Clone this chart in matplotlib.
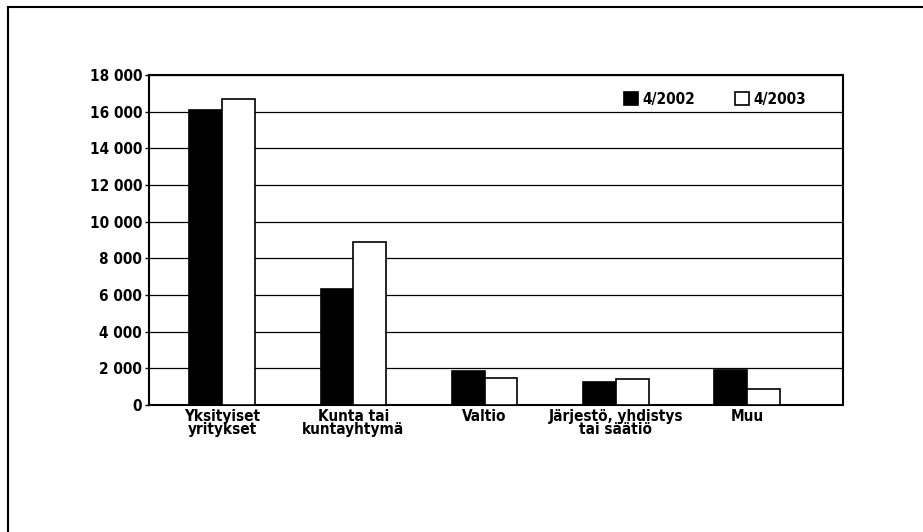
import matplotlib
matplotlib.use("Agg")
import matplotlib.pyplot as plt
import numpy as np
from matplotlib.lines import Line2D

plt.rcParams["font.family"] = ["Liberation Sans Narrow", "DejaVu Sans"]
plt.rcParams["font.weight"] = "bold"
plt.rcParams["font.stretch"] = "condensed"

categories = ["Yksityiset\nyritykset", "Kunta tai\nkuntayhtymä", "Valtio",
              "Järjestö, yhdistys\ntai säätiö", "Muu"]
y2002 = [16100, 6330, 1850, 1250, 1900]
y2003 = [16700, 8900, 1470, 1420, 870]
labels = ["4/2002", "4/2003"]

fig = plt.figure(figsize=(9.23, 5.32), dpi=100)
# outer frame: only top and left edges are inside the picture
fig.lines.append(Line2D([8 / 923, 1], [1 - 7 / 532, 1 - 7 / 532],
                        transform=fig.transFigure, color="black", lw=1.5))
fig.lines.append(Line2D([8 / 923, 8 / 923], [0, 1 - 7 / 532],
                        transform=fig.transFigure, color="black", lw=1.5))

ax = fig.add_axes([149 / 923, 127 / 532, 694 / 923, 330 / 532])

x = np.arange(len(categories))
w = 0.25
ax.bar(x - w / 2, y2002, w, color="black", edgecolor="black", lw=1.2,
       label=labels[0], zorder=3)
ax.bar(x + w / 2, y2003, w, color="white", edgecolor="black", lw=1.2,
       label=labels[1], zorder=3)

ax.set_ylim(0, 18000)
ax.set_xlim(-0.557, 4.73)
ax.set_yticks(range(0, 18001, 2000))
ax.set_yticklabels([f"{v:,}".replace(",", " ") for v in range(0, 18001, 2000)])
ax.set_xticks(x)
ax.set_xticklabels(categories, linespacing=0.85)
ax.grid(axis="y", color="black", lw=0.9, zorder=1)
for s in ax.spines.values():
    s.set_linewidth(1.5)
ax.tick_params(axis="y", length=3, width=1, labelsize=11, pad=2)
ax.tick_params(axis="x", length=0, labelsize=11, pad=3)

leg = ax.legend(loc="upper right", bbox_to_anchor=(0.967, 0.99), ncol=2,
                frameon=False, fontsize=11, handlelength=0.9,
                handleheight=0.9, handletextpad=0.3, columnspacing=2.6)

fig.savefig("out.png", dpi=100)
